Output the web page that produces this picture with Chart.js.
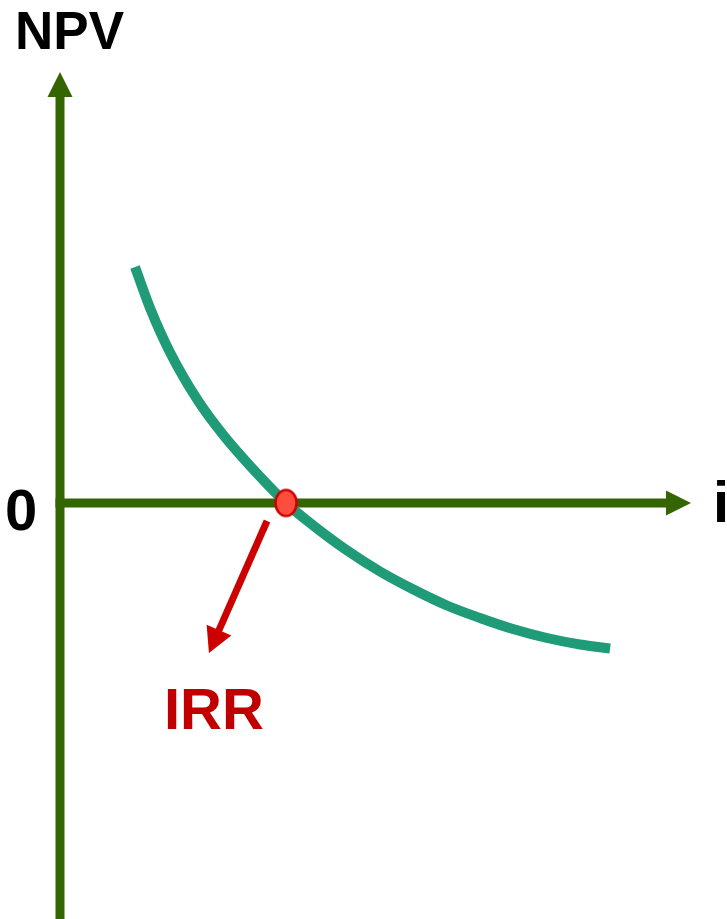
<!DOCTYPE html>
<html><head><meta charset="utf-8">
<script src="https://cdn.jsdelivr.net/npm/chart.js@4"></script>
<style>html,body{margin:0;padding:0;background:#fff}#wrap{width:727px;height:919px;position:relative}</style>
</head><body><div id="wrap"><canvas id="c"></canvas></div>
<script>
// Discount rate i (%) and NPV (arbitrary units)
const rates = [3.32, 3.98, 4.87, 6.11, 7.23, 8.41, 10.0, 11.19, 12.70, 14.16, 15.62, 17.12, 18.58, 20.04, 21.55, 23.01, 24.34];
const npvValues = [23.6, 19.52, 15.06, 10.22, 6.78, 3.71, 0, -2.22, -4.74, -6.85, -8.63, -10.25, -11.5, -12.6, -13.5, -14.15, -14.55];
const irrRate = [10.0];
const irrNpv = [0];
const yAxisTitle = 'NPV';
const xAxisTitle = 'i';
const zeroTick = '0';
const irrLabel = 'IRR';

const curveData = rates.map((r, k) => ({x: r, y: npvValues[k]}));
const irrData = irrRate.map((r, k) => ({x: r, y: irrNpv[k]}));

// elliptical marker for the IRR point
const dot = document.createElement('canvas');
dot.width = 26; dot.height = 31;
(function(){
  const g = dot.getContext('2d');
  g.beginPath();
  g.ellipse(13, 15.5, 10.5, 13, 0, 0, Math.PI * 2);
  g.fillStyle = '#ff4d3d';
  g.fill();
  g.lineWidth = 2.5;
  g.strokeStyle = '#cc0000';
  g.stroke();
})();

const axesPlugin = {
  id: 'axesPlugin',
  beforeDatasetsDraw(chart) {
    const {ctx, scales: {x, y}} = chart;
    const x0 = x.getPixelForValue(0), y0 = y.getPixelForValue(0);
    const xEnd = x.getPixelForValue(27.92), yTop = y.getPixelForValue(43.1);
    const yBottom = chart.height;
    ctx.save();
    ctx.strokeStyle = '#336600';
    ctx.fillStyle = '#336600';
    ctx.lineWidth = 9;
    ctx.lineCap = 'butt';
    ctx.beginPath(); ctx.moveTo(x0, yBottom); ctx.lineTo(x0, yTop + 22); ctx.stroke();
    ctx.beginPath(); ctx.moveTo(x0, yTop); ctx.lineTo(x0 - 12.5, yTop + 25); ctx.lineTo(x0 + 12.5, yTop + 25); ctx.closePath(); ctx.fill();
    ctx.beginPath(); ctx.moveTo(x0 - 4.5, y0); ctx.lineTo(xEnd - 22, y0); ctx.stroke();
    ctx.beginPath(); ctx.moveTo(xEnd, y0); ctx.lineTo(xEnd - 25, y0 - 12.5); ctx.lineTo(xEnd - 25, y0 + 12.5); ctx.closePath(); ctx.fill();
    ctx.restore();
  },
  afterDatasetsDraw(chart) {
    const {ctx, scales: {x, y}} = chart;
    const x0 = x.getPixelForValue(0), y0 = y.getPixelForValue(0);
    ctx.save();
    // red arrow from IRR point to label
    const sx = x.getPixelForValue(9.16), sy = y.getPixelForValue(-1.8);
    const tx = x.getPixelForValue(6.59), ty = y.getPixelForValue(-15.0);
    const dx = tx - sx, dy = ty - sy, len = Math.hypot(dx, dy);
    const ux = dx / len, uy = dy / len;
    const hl = 25, hw = 13.5;
    ctx.strokeStyle = '#cc0000';
    ctx.fillStyle = '#cc0000';
    ctx.lineWidth = 7;
    ctx.beginPath(); ctx.moveTo(sx, sy); ctx.lineTo(tx - ux * (hl - 2), ty - uy * (hl - 2)); ctx.stroke();
    const bx = tx - ux * hl, by = ty - uy * hl;
    ctx.beginPath();
    ctx.moveTo(tx, ty);
    ctx.lineTo(bx - uy * hw, by + ux * hw);
    ctx.lineTo(bx + uy * hw, by - ux * hw);
    ctx.closePath(); ctx.fill();

    ctx.textBaseline = 'alphabetic';
    ctx.textAlign = 'left';
    ctx.font = 'bold 58px "Liberation Sans", Arial, sans-serif';
    ctx.fillStyle = '#c00000';
    ctx.fillText(irrLabel, x.getPixelForValue(6.59) - 45, y.getPixelForValue(-22.6));
    ctx.fillStyle = '#000000';
    ctx.fillText(zeroTick, x0 - 55, y0 + 27);
    ctx.fillText(xAxisTitle, x.getPixelForValue(27.92) + 22, y0 + 19);
    ctx.font = 'bold 53px "Liberation Sans", Arial, sans-serif';
    ctx.fillText(yAxisTitle, x0 - 45, 49);
    ctx.restore();
  }
};

new Chart(document.getElementById('c'), {
  type: 'scatter',
  data: {
    datasets: [
      {
        label: 'IRR',
        data: irrData,
        pointStyle: dot,
        pointRadius: 13,
        showLine: false,
        order: 0
      },
      {
        label: 'NPV',
        data: curveData,
        showLine: true,
        borderColor: '#1f9b78',
        borderWidth: 10,
        borderCapStyle: 'butt',
        pointRadius: 0,
        cubicInterpolationMode: 'monotone',
        fill: false,
        order: 1
      }
    ]
  },
  plugins: [axesPlugin],
  options: {
    responsive: true,
    maintainAspectRatio: false,
    animation: false,
    events: [],
    layout: {padding: 0, autoPadding: false},
    plugins: {legend: {display: false}, tooltip: {enabled: false}},
    scales: {
      x: {type: 'linear', display: false, min: -2.655, max: 29.513},
      y: {type: 'linear', display: false, min: -41.6, max: 50.3}
    }
  }
});
</script>
</body></html>
